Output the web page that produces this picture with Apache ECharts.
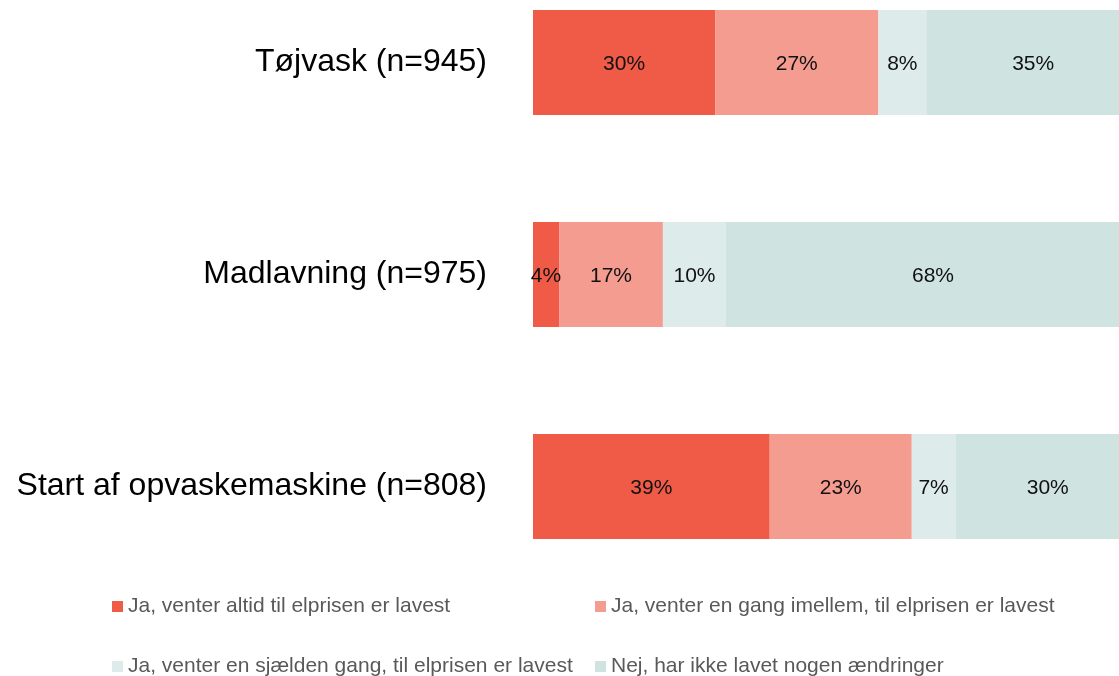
<!DOCTYPE html>
<html>
<head>
<meta charset="utf-8">
<script src="https://cdn.jsdelivr.net/npm/echarts@6/dist/echarts.min.js"></script>
<style>html,body{margin:0;padding:0;background:#fff;}#c{width:1119px;height:676px;}</style>
</head>
<body>
<div id="c"></div>
<script>
const categories = ['Tøjvask (n=945)', 'Madlavning (n=975)', 'Start af opvaskemaskine (n=808)'];
const seriesNames = [
  'Ja, venter altid til elprisen er lavest',
  'Ja, venter en gang imellem, til elprisen er lavest',
  'Ja, venter en sjælden gang, til elprisen er lavest',
  'Nej, har ikke lavet nogen ændringer'
];
const altid = [30.0, 4.3, 39.0];
const gangImellem = [26.9, 17.1, 23.4];
const sjaelden = [7.9, 10.4, 7.2];
const nej = [35.2, 68.2, 30.4];
const colors = ['#EF5B47', '#F59C90', '#DDEBEA', '#CFE3E1'];

const values = [altid, gangImellem, sjaelden, nej];
const font = 'Liberation Sans, Arial, sans-serif';

const chart = echarts.init(document.getElementById('c'));
const legendPos = [[107, 591], [590, 591], [107, 651], [590, 651]];
chart.setOption({
  animation: false,
  backgroundColor: '#fff',
  grid: { left: 533, right: -21, top: -43.5, height: 636, containLabel: false, outerBoundsMode: 'none' },
  xAxis: { type: 'value', min: 0, max: 100, show: false },
  yAxis: {
    type: 'category', data: categories, inverse: true,
    axisLine: { show: false }, axisTick: { show: false },
    axisLabel: { fontSize: 32, color: '#000', fontFamily: font, margin: 46 }
  },
  legend: seriesNames.map((n, i) => ({
    data: [n], left: legendPos[i][0], top: legendPos[i][1],
    icon: 'rect', itemWidth: 11, itemHeight: 11, itemGap: 0,
    textStyle: { fontSize: 21, color: '#595959', fontFamily: font },
    selectedMode: false
  })),
  series: seriesNames.map((n, i) => ({
    name: n, type: 'bar', stack: 'total', barWidth: 105,
    data: values[i],
    itemStyle: { color: colors[i] },
    label: {
      show: true, position: 'inside', fontSize: 21, color: '#111', fontFamily: font,
      offset: [0, 1.5],
      formatter: p => Math.round(p.value) + '%'
    }
  }))
});
</script>
</body>
</html>
